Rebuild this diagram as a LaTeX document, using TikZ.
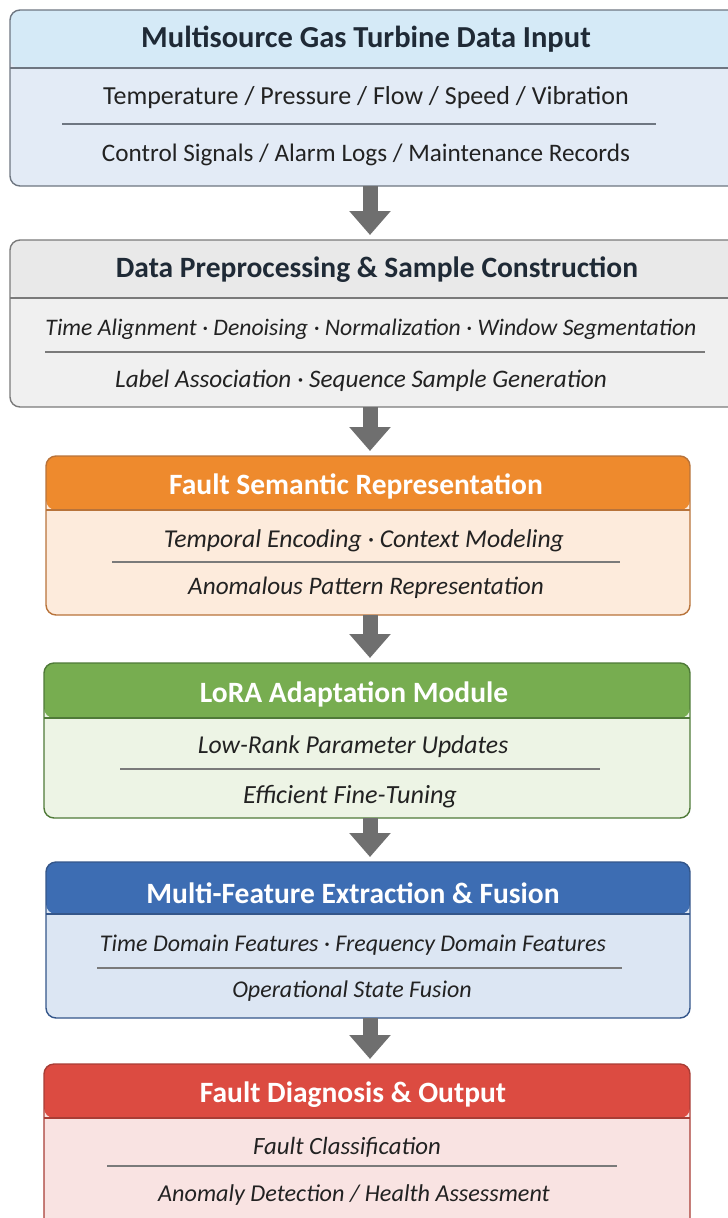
\documentclass[tikz,border=0pt]{standalone}
\usepackage{fontspec}
\setmainfont{Carlito}
\usetikzlibrary{arrows.meta}
\definecolor{hA}{HTML}{D5EAF7}\definecolor{bA}{HTML}{E3EBF6}\definecolor{dA}{HTML}{6E7681}
\definecolor{hB}{HTML}{E9E9E9}\definecolor{bB}{HTML}{F0F0F0}\definecolor{dB}{HTML}{7A7A7A}
\definecolor{hC}{HTML}{EE8A2D}\definecolor{bC}{HTML}{FDEBDC}\definecolor{dC}{HTML}{B8733A}
\definecolor{hD}{HTML}{77AD50}\definecolor{bD}{HTML}{EDF4E5}\definecolor{dD}{HTML}{4F7A38}
\definecolor{hE}{HTML}{3D6DB3}\definecolor{bE}{HTML}{DCE6F3}\definecolor{dE}{HTML}{34568A}
\definecolor{hF}{HTML}{DC4B41}\definecolor{bF}{HTML}{F9E3E2}\definecolor{dF}{HTML}{A83D35}
\definecolor{txt}{HTML}{222222}\definecolor{ttl}{HTML}{1F2A36}\definecolor{arr}{HTML}{6F6F6F}
\begin{document}
\begin{tikzpicture}[x=1pt,y=-1pt,
  stage/.style n args={4}{draw=#3, line width=1.4pt, fill=#2, rounded corners=10pt,
    anchor=north west, inner sep=0pt, outer sep=0pt,
    path picture={\fill[#1] (path picture bounding box.north west) rectangle ([yshift=-#4pt]path picture bounding box.north east);
      \draw[#3, line width=1.4pt] ([yshift=-#4pt]path picture bounding box.north west) -- ([yshift=-#4pt]path picture bounding box.north east);}},
  ttlA/.style={font=\fontsize{#1}{#1}\selectfont\bfseries, text=ttl},
  ttlA/.default=29.5,
  ttlW/.style={font=\fontsize{29.5}{30}\selectfont\bfseries, text=white},
  bodyR/.style={font=\fontsize{#1}{#1}\selectfont, text=txt},
  bodyR/.default=25.5,
  bodyI/.style={font=\fontsize{#1}{#1}\selectfont\itshape, text=txt},
  bodyI/.default=25,
  divider/.style={draw=#1, line width=1.1pt},
  flow/.style={draw=arr, line width=15pt, -{Triangle[width=40pt,length=24pt]}, shorten >=5pt}
]
\useasboundingbox (0,0) rectangle (728,1218);
% boxes
\node[stage={hA}{bA}{dA}{58}, minimum width=735pt, minimum height=176pt] (b1) at (10,10) {};
\node[stage={hB}{bB}{dB}{58}, minimum width=735pt, minimum height=167pt] (b2) at (10,240) {};
\node[stage={hC}{bC}{dC}{54}, minimum width=644pt, minimum height=159pt] (b3) at (46,456) {};
\node[stage={hD}{bD}{dD}{55}, minimum width=646pt, minimum height=155pt] (b4) at (44,663) {};
\node[stage={hE}{bE}{dE}{52}, minimum width=644pt, minimum height=156pt] (b5) at (46,862) {};
\node[stage={hF}{bF}{dF}{54}, minimum width=646pt, minimum height=176pt] (b6) at (44,1064) {};
\coordinate (ax) at (370,0);
% titles
\node[ttlA=30.5] (t1) at (366,39) {Multisource Gas Turbine Data Input};
\node[ttlA] (t2) at (377,270) {Data Preprocessing \& Sample Construction};
\node[ttlW] (t3) at (356,486) {Fault Semantic Representation};
\node[ttlW] (t4) at (354,694) {LoRA Adaptation Module};
\node[ttlW] (t5) at (353,893) {Multi-Feature Extraction \& Fusion};
\node[ttlW] (t6) at (353,1095) {Fault Diagnosis \& Output};
% body lines
\node[bodyR=26] (l1a) at (366,98) {Temperature / Pressure / Flow / Speed / Vibration};
\node[bodyR=25.2] (l1b) at (366,155) {Control Signals / Alarm Logs / Maintenance Records};
\draw[divider=dA] (62,124) -- (656,124);
\node[bodyI=23.7] (l2a) at (371,329) {Time Alignment · Denoising · Normalization · Window Segmentation};
\node[bodyI=25.2] (l2b) at (361,381) {Label Association · Sequence Sample Generation};
\draw[divider=dB] (45,352) -- (705,352);
\node[bodyI=25.7] (l3a) at (364,541) {Temporal Encoding · Context Modeling};
\node[bodyI=25.2] (l3b) at (366,588) {Anomalous Pattern Representation};
\draw[divider=dB] (112,562) -- (620,562);
\node[bodyI=25.7] (l4a) at (353,747) {Low-Rank Parameter Updates};
\node[bodyI=26.2] (l4b) at (350,797) {Efficient Fine-Tuning};
\draw[divider=dB] (120,769) -- (600,769);
\node[bodyI=24] (l5a) at (353,945) {Time Domain Features · Frequency Domain Features};
\node[bodyI=24] (l5b) at (352,991) {Operational State Fusion};
\draw[divider=dB] (97,968) -- (622,968);
\node[bodyI=24.8] (l6a) at (347,1147) {Fault Classification};
\node[bodyI=24.2] (l6b) at (354,1195) {Anomaly Detection / Health Assessment};
\draw[divider=dB] (107,1166) -- (617,1166);
% arrows
\draw[flow] (b1.south -| ax) -- (b2.north -| ax);
\draw[flow] (b2.south -| ax) -- (b3.north -| ax);
\draw[flow] (b3.south -| ax) -- (b4.north -| ax);
\draw[flow] (b4.south -| ax) -- (b5.north -| ax);
\draw[flow] (b5.south -| ax) -- (b6.north -| ax);
\end{tikzpicture}
\end{document}
